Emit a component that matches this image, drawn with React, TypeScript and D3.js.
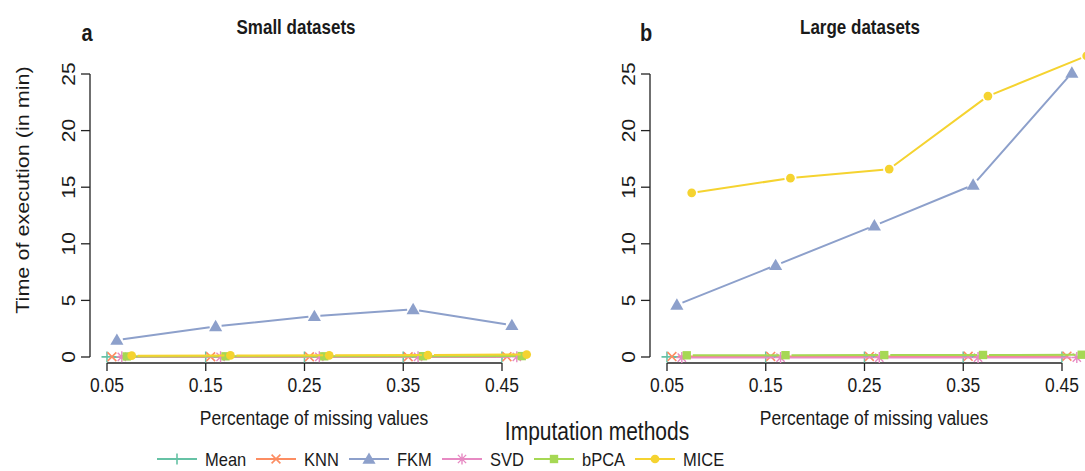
import React from "react";
import * as d3 from "d3";

const xTicks = [0.05, 0.15, 0.25, 0.35, 0.45];
const xTickLabels = ["0.05", "0.15", "0.25", "0.35", "0.45"];
const yTicks = [0, 5, 10, 15, 20, 25];
const methods = ["Mean", "KNN", "FKM", "SVD", "bPCA", "MICE"];
const methodColors = ["#66C2A5", "#FC8D62", "#8DA0CB", "#E78AC3", "#A6D854", "#F5D330"];
const methodOffsets = [0, 0.005, 0.01, 0.015, 0.02, 0.025];

// Small datasets (minutes)
const smallMean = [0.01, 0.01, 0.01, 0.01, 0.01];
const smallKNN = [0.02, 0.02, 0.02, 0.02, 0.03];
const smallFKM = [1.5, 2.7, 3.6, 4.2, 2.8];
const smallSVD = [0.02, 0.02, 0.02, 0.02, 0.02];
const smallBPCA = [0.05, 0.06, 0.06, 0.07, 0.08];
const smallMICE = [0.12, 0.14, 0.15, 0.17, 0.22];

// Large datasets (minutes)
const largeMean = [0.01, 0.01, 0.01, 0.01, 0.01];
const largeKNN = [0.04, 0.05, 0.05, 0.06, 0.07];
const largeFKM = [4.6, 8.1, 11.6, 15.2, 25.1];
const largeSVD = [-0.05, -0.05, -0.05, -0.05, -0.05];
const largeBPCA = [0.15, 0.16, 0.17, 0.18, 0.2];
const largeMICE = [14.5, 15.8, 16.6, 23.05, 26.6];

const smallSeries = [smallMean, smallKNN, smallFKM, smallSVD, smallBPCA, smallMICE];
const largeSeries = [largeMean, largeKNN, largeFKM, largeSVD, largeBPCA, largeMICE];

const FONT = "'Liberation Sans', Arial, Helvetica, sans-serif";
const STRETCH = 1.2;

function HText({
  x,
  y,
  size,
  anchor = "middle",
  weight = "normal",
  stretch = STRETCH,
  children,
}: {
  x: number;
  y: number;
  size: number;
  anchor?: string;
  weight?: string;
  stretch?: number;
  children: React.ReactNode;
}) {
  return (
    <text
      transform={`translate(${x},${y}) scale(1,${stretch})`}
      fontFamily={FONT}
      fontSize={size}
      fontWeight={weight}
      textAnchor={anchor}
      fill="#1a1a1a"
    >
      {children}
    </text>
  );
}

function VText({ x, y, size, children }: { x: number; y: number; size: number; children: React.ReactNode }) {
  return (
    <text
      transform={`translate(${x},${y}) rotate(-90) scale(${STRETCH},1)`}
      fontFamily={FONT}
      fontSize={size}
      textAnchor="middle"
      fill="#1a1a1a"
    >
      {children}
    </text>
  );
}

function Marker({ idx, x, y, color }: { idx: number; x: number; y: number; color: string }) {
  const s = 5.5;
  if (idx === 0) {
    return <path d={`M${x - s},${y}H${x + s}M${x},${y - s}V${y + s}`} stroke={color} strokeWidth={1.6} fill="none" />;
  }
  if (idx === 1) {
    const k = s * 0.8;
    return (
      <path
        d={`M${x - k},${y - k}L${x + k},${y + k}M${x - k},${y + k}L${x + k},${y - k}`}
        stroke={color}
        strokeWidth={1.6}
        fill="none"
      />
    );
  }
  if (idx === 3) {
    const k = s * 0.75;
    return (
      <path
        d={`M${x - s},${y}H${x + s}M${x},${y - s}V${y + s}M${x - k},${y - k}L${x + k},${y + k}M${x - k},${y + k}L${x + k},${y - k}`}
        stroke={color}
        strokeWidth={1.4}
        fill="none"
      />
    );
  }
  const type = idx === 2 ? d3.symbolTriangle : idx === 4 ? d3.symbolSquare : d3.symbolCircle;
  const size = idx === 2 ? 75 : idx === 4 ? 70 : 60;
  const p = d3.symbol().type(type).size(size)() as string;
  const dy = idx === 2 ? 1 : 0;
  return <path d={p} transform={`translate(${x},${y + dy})`} fill={color} />;
}

function Panel({
  series,
  xRange,
  yAxisX,
  title,
  letter,
  titleX,
  letterX,
  labelX,
}: {
  series: number[][];
  xRange: [number, number];
  yAxisX: number;
  title: string;
  letter: string;
  titleX: number;
  letterX: number;
  labelX: number;
}) {
  const x = d3.scaleLinear().domain([0.05, 0.45]).range(xRange);
  const y = d3.scaleLinear().domain([0, 25]).range([357, 74]);
  const axisY = 363;
  const gap = 6;
  return (
    <g>
      <HText x={letterX} y={41} size={20} weight="bold">
        {letter}
      </HText>
      <HText x={titleX} y={34} size={17} weight="bold">
        {title}
      </HText>
      <line x1={yAxisX} x2={yAxisX} y1={y(0)} y2={y(25)} stroke="#222" strokeWidth={1.3} />
      {yTicks.map((t) => (
        <g key={t}>
          <line x1={yAxisX - 9} x2={yAxisX} y1={y(t)} y2={y(t)} stroke="#222" strokeWidth={1.3} />
          <VText x={yAxisX - 15} y={y(t)} size={17.5}>
            {t}
          </VText>
        </g>
      ))}
      <line x1={x(0.05)} x2={x(0.45)} y1={axisY} y2={axisY} stroke="#222" strokeWidth={1.3} />
      {xTicks.map((t, i) => (
        <g key={t}>
          <line x1={x(t)} x2={x(t)} y1={axisY} y2={axisY + 8} stroke="#222" strokeWidth={1.3} />
          <HText x={x(t)} y={391.5} size={17.5}>
            {xTickLabels[i]}
          </HText>
        </g>
      ))}
      <HText x={labelX} y={424.5} size={17.5}>
        Percentage of missing values
      </HText>
      {series.map((vals, m) => {
        const pts = vals.map((v, i) => [x(xTicks[i] + methodOffsets[m]), y(v)] as [number, number]);
        const segs: string[] = [];
        for (let i = 0; i < pts.length - 1; i++) {
          const [x0, y0] = pts[i];
          const [x1, y1] = pts[i + 1];
          const dx = x1 - x0;
          const dy = y1 - y0;
          const len = Math.hypot(dx, dy);
          if (len <= 2 * gap) continue;
          const ux = dx / len;
          const uy = dy / len;
          segs.push(`M${x0 + ux * gap},${y0 + uy * gap}L${x1 - ux * gap},${y1 - uy * gap}`);
        }
        return (
          <g key={m}>
            <path d={segs.join("")} stroke={methodColors[m]} strokeWidth={2} fill="none" />
            {pts.map((p, i) => (
              <Marker key={i} idx={m} x={p[0]} y={p[1]} color={methodColors[m]} />
            ))}
          </g>
        );
      })}
    </g>
  );
}

export default function App() {
  const legendX = [157, 256, 349, 442, 534, 635];
  const legendY = 459;
  return (
    <svg width={1085} height={471} style={{ position: "absolute", left: 0, top: 0, background: "#fff" }}>
      <rect width={1085} height={471} fill="#fff" />
      <VText x={29} y={190} size={18}>
        Time of execution (in min)
      </VText>
      <Panel
        series={smallSeries}
        xRange={[107, 502]}
        yAxisX={90}
        title="Small datasets"
        letter="a"
        titleX={296}
        letterX={87}
        labelX={314}
      />
      <Panel
        series={largeSeries}
        xRange={[667, 1062]}
        yAxisX={650}
        title="Large datasets"
        letter="b"
        titleX={860}
        letterX={646}
        labelX={874}
      />
      <HText x={597} y={440} size={21}>
        Imputation methods
      </HText>
      {methods.map((m, i) => (
        <g key={m}>
          <line x1={legendX[i]} x2={legendX[i] + 40} y1={legendY} y2={legendY} stroke={methodColors[i]} strokeWidth={2} />
          <Marker idx={i} x={legendX[i] + 20} y={legendY} color={methodColors[i]} />
          <HText x={legendX[i] + 48} y={465.5} size={16.5} stretch={1.15} anchor="start">
            {m}
          </HText>
        </g>
      ))}
    </svg>
  );
}
